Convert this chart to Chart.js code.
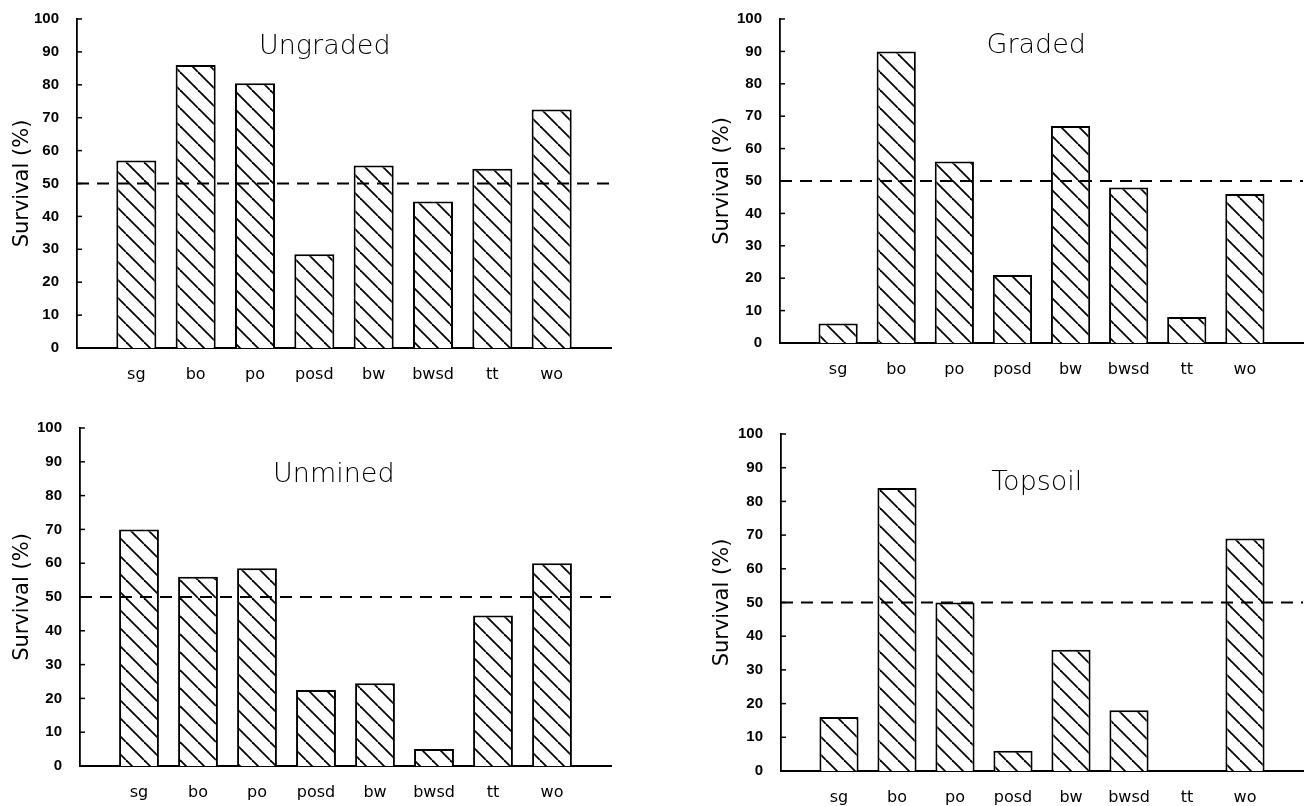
<!DOCTYPE html>
<html>
<head>
<meta charset="utf-8">
<script src="https://cdn.jsdelivr.net/npm/chart.js@4.4.1/dist/chart.umd.min.js"></script>
<style>
  html, body { margin: 0; padding: 0; background: #fff; }
  body { width: 1312px; height: 806px; position: relative; overflow: hidden; }
  canvas { position: absolute; }
</style>
</head>
<body>
<canvas id="c-ungraded"></canvas>
<canvas id="c-graded"></canvas>
<canvas id="c-unmined"></canvas>
<canvas id="c-topsoil"></canvas>
<script>
// species codes on the x axis
const categories = ['sg', 'bo', 'po', 'posd', 'bw', 'bwsd', 'tt', 'wo'];

// survival (%)
const ungraded = [57, 86, 80.5, 28.5, 55.5, 44.5, 54.5, 72.5];
const graded   = [6, 90, 56, 21, 67, 48, 8, 46];
const unmined  = [70, 56, 58.5, 22.5, 24.5, 5, 44.5, 60];
const topsoil  = [16, 84, 50, 6, 36, 18, null, 69];

const yTicks = [0, 10, 20, 30, 40, 50, 60, 70, 80, 90, 100];
const threshold = 50;

const fontTitle = '"DejaVu Sans", sans-serif';
const fontTick = '"Liberation Sans", Arial, sans-serif';

// one empty slot each side of the species so the axis runs past them
function padLabels(arr) { return [''].concat(arr, ['']); }
function padData(arr) { return [null].concat(arr, [null]); }

function makeHatch() {
  const size = 18;
  const c = document.createElement('canvas');
  c.width = size; c.height = size;
  const g = c.getContext('2d');
  g.fillStyle = '#fff';
  g.fillRect(0, 0, size, size);
  g.strokeStyle = '#000';
  g.lineWidth = 1.8;
  for (const off of [-size, 0, size]) {
    g.beginPath();
    g.moveTo(off, 0);
    g.lineTo(off + size, size);
    g.stroke();
  }
  return g.createPattern(c, 'repeat');
}

const decor = {
  id: 'decor',
  afterDatasetsDraw(chart, args, opts) {
    const ctx = chart.ctx;
    const area = chart.chartArea;
    const y = chart.scales.y;
    ctx.save();
    // dashed 50% line
    ctx.strokeStyle = '#000';
    ctx.lineWidth = 2;
    ctx.setLineDash([12, 8]);
    const yy = y.getPixelForValue(threshold);
    ctx.beginPath();
    ctx.moveTo(area.left, yy);
    ctx.lineTo(area.right, yy);
    ctx.stroke();
    ctx.setLineDash([]);
    // inward tick marks
    ctx.lineWidth = 1.5;
    yTicks.forEach(v => {
      const p = y.getPixelForValue(v);
      ctx.beginPath();
      ctx.moveTo(area.left, p);
      ctx.lineTo(area.left + 5, p);
      ctx.stroke();
    });
    // panel title
    ctx.fillStyle = '#000';
    ctx.font = '300 27px ' + fontTitle;
    ctx.textAlign = 'center';
    ctx.textBaseline = 'middle';
    ctx.fillText(opts.text, area.left + (area.right - area.left) * opts.fx, area.top + opts.dy);
    ctx.restore();
  }
};

const panels = [
  { id: 'c-ungraded', title: 'Ungraded', values: ungraded, left: 0,   top: 0,   w: 660, h: 400, yW: 77, padR: 49, padT: 17, xH: 52, fx: 0.464, dy: 28 },
  { id: 'c-graded',   title: 'Graded',   values: graded,   left: 700, top: 0,   w: 612, h: 400, yW: 80, padR: 0,  padT: 15, xH: 57, fx: 0.49,  dy: 27 },
  { id: 'c-unmined',  title: 'Unmined',  values: unmined,  left: 0,   top: 400, w: 660, h: 406, yW: 80, padR: 49, padT: 28, xH: 40, fx: 0.478, dy: 47 },
  { id: 'c-topsoil',  title: 'Topsoil',  values: topsoil,  left: 700, top: 400, w: 612, h: 406, yW: 81, padR: 0,  padT: 34, xH: 35, fx: 0.49,  dy: 49 }
];

panels.forEach(p => {
  const cv = document.getElementById(p.id);
  cv.width = p.w; cv.height = p.h;
  cv.style.left = p.left + 'px';
  cv.style.top = p.top + 'px';
  cv.style.width = p.w + 'px';
  cv.style.height = p.h + 'px';

  new Chart(cv.getContext('2d'), {
    type: 'bar',
    data: {
      labels: padLabels(categories),
      datasets: [{
        data: padData(p.values),
        backgroundColor: makeHatch(),
        borderColor: '#000',
        borderWidth: 2,
        barPercentage: 0.675,
        categoryPercentage: 1
      }]
    },
    options: {
      responsive: false,
      animation: false,
      layout: { padding: { left: 0, right: p.padR, top: p.padT, bottom: 0 } },
      plugins: {
        legend: { display: false },
        tooltip: { enabled: false },
        decor: { text: p.title, fx: p.fx, dy: p.dy }
      },
      scales: {
        x: {
          offset: false,
          grid: { display: false },
          border: { display: true, color: '#000', width: 2 },
          ticks: { color: '#000', font: { family: fontTitle, size: 16 }, padding: 9, autoSkip: false, maxRotation: 0 },
          afterFit(s) { s.height = p.xH; }
        },
        y: {
          min: 0,
          max: 100,
          grid: { display: false },
          border: { display: true, color: '#000', width: 1.8 },
          ticks: { stepSize: 10, color: '#000', padding: 10, font: { family: fontTick, size: 15, weight: 'bold' } },
          title: { display: true, text: 'Survival (%)', color: '#000', font: { family: fontTitle, size: 21 }, padding: { top: 10, bottom: 0 } },
          afterFit(s) { s.width = p.yW; }
        }
      }
    },
    plugins: [decor]
  });
});
</script>
</body>
</html>
